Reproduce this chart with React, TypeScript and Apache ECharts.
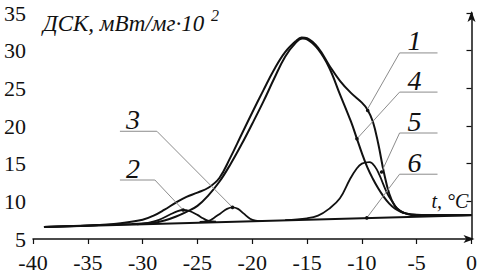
import React, { useEffect, useRef } from "react";
import * as echarts from "echarts";

// ---- axis ticks ----
const xTicks = { min: -40, max: 0, step: 5 };
const yTicks = { min: 5, max: 35, step: 5 };

// ---- curve 6: baseline ----
const baseT = [-39, 0];
const baseV = [6.6, 8.15];

// ---- curve 1: total DSC ----
const c1T = [-39, -36, -34, -32, -30, -29, -28, -27, -26, -25, -24, -23, -22, -21, -20, -19, -18, -17, -16, -15.5, -15, -14, -13, -12, -11, -10, -9.5, -9, -8.5, -8, -7.5, -7, -6.5, -6, -5, -3, 0];
const c1V = [6.6, 6.72, 6.85, 7.1, 7.55, 8.1, 8.9, 9.8, 10.6, 11.15, 11.8, 13.1, 15.8, 18.8, 21.8, 24.7, 27.5, 29.8, 31.3, 31.75, 31.65, 30.4, 28.1, 26.0, 24.4, 23.1, 22.2, 20.6, 17.6, 13.9, 11.0, 9.4, 8.7, 8.4, 8.22, 8.17, 8.2];

// ---- curve 4: main peak ----
const c4T = [-39, -34, -31, -29, -28, -27, -26, -25, -24, -23, -22, -21, -20, -19, -18, -17, -16, -15.4, -15, -14, -13, -12, -11, -10.45, -10, -9.5, -9, -8.5, -8, -7.5, -7, -6.5, -6, -5, -3, 0];
const c4V = [6.6, 6.85, 7.0, 7.15, 7.45, 7.95, 8.6, 9.4, 10.8, 12.6, 14.9, 17.5, 20.3, 23.2, 26.3, 29.2, 31.1, 31.6, 31.5, 30.2, 27.8, 24.2, 20.6, 18.3, 16.4, 14.5, 13.0, 11.7, 10.6, 9.7, 9.05, 8.65, 8.4, 8.2, 8.15, 8.2];

// ---- curve 2 ----
const c2T = [-30.5, -29.5, -28.5, -27.5, -26.8, -26.3, -25.8, -25, -24.5, -24, -23.3];
const c2V = [6.95, 7.15, 7.55, 8.25, 8.7, 8.85, 8.75, 8.2, 7.75, 7.4, 7.3];

// ---- curve 3 ----
const c3T = [-24.8, -24, -23.5, -22.9, -22.3, -21.8, -21.3, -20.8, -20.2, -19.7, -19];
const c3V = [7.28, 7.4, 7.8, 8.4, 9.0, 9.2, 9.0, 8.4, 7.7, 7.45, 7.37];

// ---- curve 5 ----
const c5T = [-17, -15, -14, -13, -12, -11.1, -10.5, -10, -9.3, -8.8, -8.4, -7.7, -7.2, -6.8, -6.2, -5.6, -5, -4];
const c5V = [7.5, 7.75, 8.1, 9.0, 10.4, 12.9, 14.3, 15.0, 15.2, 14.6, 13.5, 11.1, 9.9, 9.1, 8.5, 8.2, 8.12, 8.1];

// ---- curve labels (leader: dot on curve -> elbow -> tail) ----
const labelNames = ["1", "2", "3", "4", "5", "6"];
const labelDotT = [-9.5, -26.3, -21.8, -10.45, -8.2, -9.55];
const labelDotV = [22.2, 8.85, 9.2, 18.3, 13.9, 7.8];
const labelElbowT = [-6.56, -28.88, -28.7, -6.56, -6.56, -6.56];
const labelElbowV = [29.7, 12.83, 19.3, 24.5, 19.07, 13.6];
const labelTailT = [-3.1, -32.07, -32.07, -3.1, -3.1, -3.1];

const yTitle = "ДСК, мВт/мг·10";
const yTitleSup = "2";
const xTitle = "t, °C";

const FONT = "Times New Roman, Liberation Serif, Tinos, Noto Serif, DejaVu Serif, serif";
const INK = "#111";

function pairs(t: number[], v: number[]) {
  return t.map((x, i) => [x, v[i]]);
}

export default function App() {
  const ref = useRef<HTMLDivElement>(null);
  useEffect(() => {
    const chart = echarts.init(ref.current!, null, { renderer: "svg" });
    const lineSeries = (name: string, t: number[], v: number[], w = 1.8) => ({
      name,
      type: "line",
      data: pairs(t, v),
      showSymbol: false,
      symbol: "none",
      smooth: 0.4,
      lineStyle: { color: INK, width: w },
      silent: true,
    });
    chart.setOption({
      animation: false,
      textStyle: { fontFamily: FONT },
      grid: { left: 33, right: 8, top: 13, bottom: 38 },
      xAxis: {
        type: "value",
        min: xTicks.min,
        max: xTicks.max,
        interval: xTicks.step,
        axisLine: {
          lineStyle: { color: INK, width: 1.5 },
          symbol: ["none", "arrow"],
          symbolSize: [6, 11],
          symbolOffset: [0, 3],
        },
        axisTick: { show: true, length: 5, lineStyle: { color: INK, width: 1.2 } },
        axisLabel: { color: INK, fontFamily: FONT, fontSize: 22, lineHeight: 16, margin: 15 },
        splitLine: { show: false },
      },
      yAxis: {
        type: "value",
        min: yTicks.min,
        max: yTicks.max,
        interval: yTicks.step,
        axisLine: {
          show: true,
          lineStyle: { color: INK, width: 1.5 },
          symbol: ["none", "arrow"],
          symbolSize: [6, 11],
          symbolOffset: [0, 2],
        },
        axisTick: { show: true, length: 5, lineStyle: { color: INK, width: 1.2 } },
        axisLabel: { color: INK, fontFamily: FONT, fontSize: 22, lineHeight: 16, margin: 7 },
        splitLine: { show: false },
      },
      series: [
        lineSeries("6", baseT, baseV, 2),
        lineSeries("2", c2T, c2V),
        lineSeries("3", c3T, c3V),
        lineSeries("5", c5T, c5V),
        lineSeries("4", c4T, c4V, 2),
        lineSeries("1", c1T, c1V, 2),
      ],
    });

    const px = (t: number, v: number) => chart.convertToPixel({ gridIndex: 0 }, [t, v]) as number[];
    const graphics: any[] = [];
    labelNames.forEach((name, i) => {
      const d = px(labelDotT[i], labelDotV[i]);
      const e = px(labelElbowT[i], labelElbowV[i]);
      const tl = px(labelTailT[i], labelElbowV[i]);
      graphics.push({
        type: "polyline",
        shape: { points: [d, e, tl] },
        style: { stroke: "#8c8c8c", lineWidth: 1, fill: "none" },
        z: 5,
      });
      graphics.push({
        type: "circle",
        shape: { cx: d[0], cy: d[1], r: 1.8 },
        style: { fill: INK },
        z: 6,
      });
      const left = tl[0] < e[0];
      const cx = left ? tl[0] + 13 : e[0] + 15;
      graphics.push({
        type: "text",
        x: cx,
        y: e[1] - 12,
        style: {
          text: name,
          fontFamily: FONT,
          fontStyle: "italic",
          fontSize: 28,
          fill: INK,
          align: "center",
          verticalAlign: "middle",
        },
        z: 6,
      });
    });
    graphics.push({
      type: "text",
      x: 43,
      y: 23,
      style: {
        text: yTitle,
        fontFamily: FONT,
        fontStyle: "italic",
        fontSize: 23,
        fill: INK,
        align: "left",
        verticalAlign: "middle",
      },
    });
    graphics.push({
      type: "text",
      x: 215,
      y: 15,
      style: {
        text: yTitleSup,
        fontFamily: FONT,
        fontStyle: "italic",
        fontSize: 16,
        fill: INK,
        align: "center",
        verticalAlign: "middle",
      },
    });
    graphics.push({
      type: "text",
      x: 450,
      y: 201,
      style: {
        text: xTitle,
        fontFamily: FONT,
        fontStyle: "italic",
        fontSize: 20,
        fill: INK,
        align: "center",
        verticalAlign: "middle",
      },
    });
    chart.setOption({ graphic: graphics });
    return () => chart.dispose();
  }, []);
  return (
    <div
      ref={ref}
      style={{ position: "fixed", left: 0, top: 0, width: 480, height: 277, background: "#fff" }}
    />
  );
}
